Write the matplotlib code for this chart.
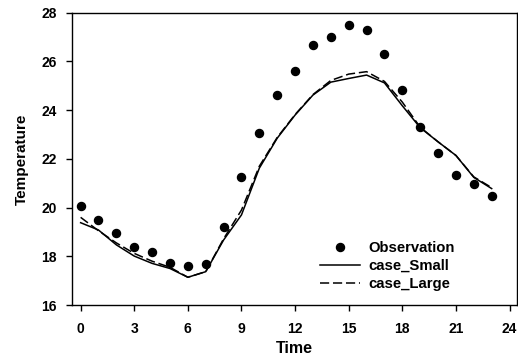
import numpy as np
import matplotlib
matplotlib.use('Agg')
import matplotlib.pyplot as plt

plt.rcParams['font.family'] = ['Liberation Sans', 'DejaVu Sans']
plt.rcParams['font.weight'] = 'bold'

hours = list(range(24))
observation = [20.07, 19.49, 18.97, 18.40, 18.16, 17.74, 17.60, 17.67, 19.22, 21.27,
               23.07, 24.63, 25.61, 26.66, 26.99, 27.48, 27.30, 26.30, 24.81, 23.30,
               22.23, 21.34, 20.96, 20.49]
case_small = [19.38, 19.08, 18.47, 18.01, 17.71, 17.50, 17.14, 17.37, 18.67, 19.70,
              21.62, 22.85, 23.80, 24.62, 25.15, 25.30, 25.44, 25.12, 24.18, 23.28,
              22.70, 22.14, 21.24, 20.78]
case_large = [19.60, 19.05, 18.55, 18.12, 17.80, 17.55, 17.14, 17.37, 18.72, 19.90,
              21.70, 22.88, 23.82, 24.64, 25.22, 25.48, 25.58, 25.18, 24.33, 23.30,
              22.70, 22.14, 21.26, 20.82]
xticks = [0, 3, 6, 9, 12, 15, 18, 21, 24]
yticks = [16, 18, 20, 22, 24, 26, 28]

fig = plt.figure(figsize=(5.18, 3.61), dpi=100)
ax = fig.add_axes([0.1384, 0.155, 0.8591, 0.8098])

ax.plot(hours, observation, 'o', color='black', markersize=5.8, label='Observation')
ax.plot(hours, case_small, '-', color='black', linewidth=1.1, label='case_Small')
ax.plot(hours, case_large, '--', color='black', linewidth=1.1, dashes=(6, 2.5),
        label='case_Large')

ax.set_xlim(-0.5, 24.4)
ax.set_ylim(16, 28)
ax.set_xticks(xticks)
ax.set_yticks(yticks)
ax.tick_params(direction='out', length=4, width=1, labelsize=10)
ax.tick_params(axis='x', pad=8)
ax.tick_params(axis='y', pad=7)
for lab in ax.get_xticklabels() + ax.get_yticklabels():
    lab.set_fontweight('bold')
for s in ax.spines.values():
    s.set_linewidth(1)

ax.set_xlabel('Time', fontsize=11.5, fontweight='bold', labelpad=4)
ax.set_ylabel('Temperature', fontsize=11, fontweight='bold', labelpad=9)

leg = ax.legend(loc='upper left', bbox_to_anchor=(0.618, 0.333),
                bbox_transform=fig.transFigure, frameon=False, fontsize=10.7,
                borderpad=0, borderaxespad=0, handlelength=2.7, handletextpad=0.55,
                labelspacing=0.28, markerscale=1.0)
for t in leg.get_texts():
    t.set_fontweight('bold')

fig.savefig('out.png', dpi=100)
